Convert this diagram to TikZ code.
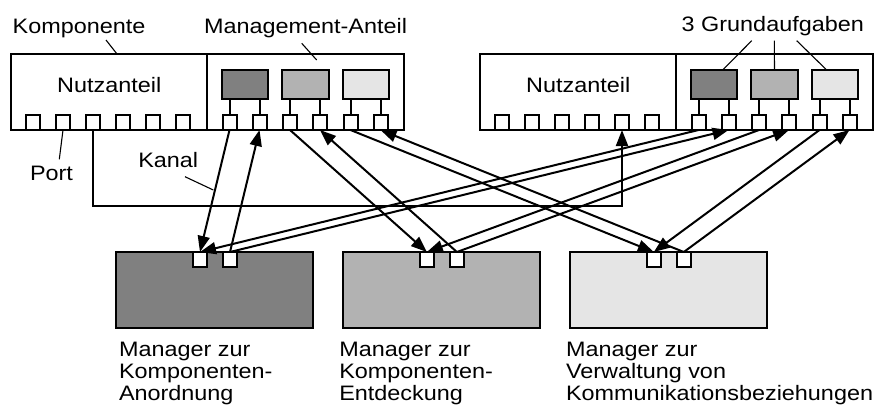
\documentclass[tikz,border=0pt]{standalone}
\usepackage{fontspec}
\setmainfont{Liberation Sans}[FakeStretch=1.12]
\usetikzlibrary{arrows.meta,calc}
\definecolor{dk}{gray}{0.5}
\definecolor{md}{gray}{0.7}
\definecolor{lt}{gray}{0.9}
\tikzset{
  box/.style={draw, line width=2pt, inner sep=0pt, outer sep=0pt, rectangle},
  port/.style={box, fill=white, minimum width=14pt, minimum height=15pt},
  task/.style={box, minimum width=46.5pt, minimum height=29pt},
  mgr/.style={box, minimum width=197pt, minimum height=76.6pt},
  lbl/.style={inner sep=0pt, outer sep=0pt, font=\fontsize{20.9}{22}\selectfont},
  lead/.style={line width=1.1pt},
  wire/.style={line width=2pt},
  arr/.style={line width=2pt, -{Triangle[length=16pt,width=12pt]}},
}
\newcommand\mycomp[2]{%
\begin{scope}[xshift=#1pt]
  \node[box, minimum width=196pt, minimum height=76pt] (#2nutz) at (109,92) {};
  \node[box, minimum width=197pt, minimum height=76pt] (#2mgmt) at (305.5,92) {};
  \node[lbl, anchor=base] (#2nl) at (109.2,92.7) {Nutzanteil};
  \foreach \i/\x in {1/33,2/63,3/93,4/123,5/153,6/183}
    \node[port] (#2p\i) at (\x,122.5) {};
  \foreach \i/\x in {1/229.5,2/259.5,3/290,4/320,5/350.5,6/380.5}
    \node[port] (#2q\i) at (\x,122.5) {};
  \foreach \t/\x/\c in {1/245/dk,2/305.5/md,3/366/lt}
    \node[task, fill=\c] (#2t\t) at (\x,84.5) {};
  \foreach \t/\a/\b in {1/1/2,2/3/4,3/5/6}{
    \draw[wire] (#2q\a.north |- #2t\t.south) -- (#2q\a.north);
    \draw[wire] (#2q\b.north |- #2t\t.south) -- (#2q\b.north);
  }
\end{scope}}
\begin{document}
\begin{tikzpicture}[x=1pt,y=-1pt]
\useasboundingbox (0,0) rectangle (882,408);
% components
\mycomp{0}{L}
\mycomp{469}{R}
% managers
\node[mgr, fill=dk] (m1) at (214.5,290) {};
\node[mgr, fill=md] (m2) at (441.4,290) {};
\node[mgr, fill=lt] (m3) at (668.3,290) {};
\foreach \m in {1,2,3}{
  \node[port] (m\m a) at ($(m\m.north west)+(84,7.8)$) {};
  \node[port] (m\m b) at ($(m\m.north west)+(114,7.8)$) {};
}
% channel
\coordinate (kan) at (0,205.7);
\draw[arr] (Lp3.south) -- (Lp3.south |- kan) -| (Rp5.south);
% management arrows
\foreach \s in {L,R}{
  \draw[arr] (\s q1.south) -- (m1a.north);
  \draw[arr] (m1b.north) -- (\s q2.south);
  \draw[arr] (\s q3.south) -- (m2a.north);
  \draw[arr] (m2b.north) -- (\s q4.south);
  \draw[arr] (\s q5.south) -- (m3a.north);
  \draw[arr] (m3b.north) -- (\s q6.south);
}
% labels
\node[lbl, anchor=base west] (tkomp) at (12.7,33.3) {Komponente};
\node[lbl, anchor=base west] (tmgmt) at (204,33) {Management-Anteil};
\node[lbl, anchor=base west] (tgrund) at (681.7,31.7) {3 Grundaufgaben};
\node[lbl, anchor=base west] (tport) at (30,180) {Port};
\node[lbl, anchor=base west] (tkanal) at (138.3,167.3) {Kanal};
\node[lbl, anchor=north west, align=left] (tm1) at (119,341.7) {Manager zur\\Komponenten-\\Anordnung};
\node[lbl, anchor=north west, align=left] (tm2) at (339.3,341.7) {Manager zur\\Komponenten-\\Entdeckung};
\node[lbl, anchor=north west, align=left] (tm3) at (566,341.7) {Manager zur\\Verwaltung von\\Kommunikationsbeziehungen};
% leader lines
\coordinate (ckomp) at (106,40);
\coordinate (cmgmt) at (301.7,43.3);
\coordinate (cmgmtend) at (316.7,60);
\coordinate (cport) at (59.3,159.3);
\coordinate (ckanal) at (185,176.7);
\coordinate (ckanalend) at (213.3,190);
\coordinate (cg1) at (751.7,40.7);
\coordinate (cg2) at (774.3,40.7);
\coordinate (cg3) at (796.7,40.7);
\draw[lead] (ckomp) -- ([xshift=8pt]Lnutz.north);
\draw[lead] (cmgmt) -- (cmgmtend);
\draw[lead] (cport) -- (Lp2.south);
\draw[lead] (ckanal) -- (ckanalend);
\draw[lead] (cg1) -- ([xshift=8.7pt]Rt1.north);
\draw[lead] (cg2) -- (Rt2.north);
\draw[lead] (cg3) -- ([xshift=-8.3pt]Rt3.north);
\end{tikzpicture}
\end{document}
